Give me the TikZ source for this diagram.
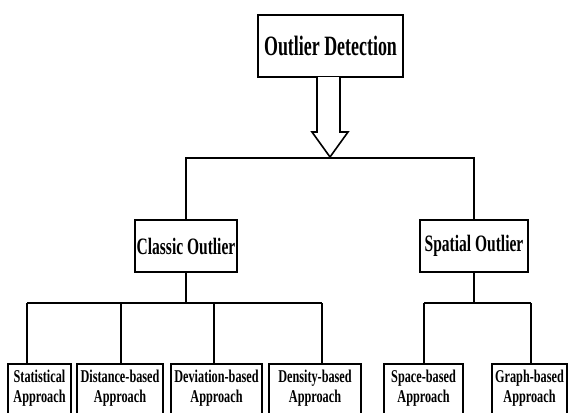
\documentclass[tikz,border=0pt]{standalone}
\usepackage{fontspec}
\newfontfamily\condtop[FakeStretch=0.64]{Liberation Serif}
\newfontfamily\condmid[FakeStretch=0.66]{Liberation Serif}
\newfontfamily\condleaf[FakeStretch=0.68]{Liberation Serif}
\begin{document}
\begin{tikzpicture}[x=1pt,y=-1pt,
  lw/.style={line width=1.8pt},
  box/.style={draw, lw, inner sep=0pt},
  topbox/.style={box, minimum width=145pt, minimum height=62pt, font=\condtop\bfseries\fontsize{28}{30}\selectfont},
  midbox/.style={box, minimum height=52pt, font=\condmid\bfseries\fontsize{23.5}{26}\selectfont},
  leaf/.style={anchor=north, inner xsep=0pt, inner ysep=5.5pt, align=center, font=\condleaf\bfseries\fontsize{18}{20.5}\selectfont},
  conn/.style={lw}]
\useasboundingbox (0,0) rectangle (569,412);
\clip (0,0) rectangle (569,412);
\fill[white] (0,0) rectangle (569,412);

% nodes
\node[topbox] (top) at (330.5,46) {Outlier Detection};
\node[midbox, minimum width=102pt] (classic) at (186,246) {Classic Outlier};
\node[midbox, minimum width=108pt] (spatial) at (474,246) {Spatial Outlier};

\node[leaf, minimum width=63pt] (s1) at (39.5,364) {Statistical\\Approach};
\node[leaf, minimum width=86pt] (s2) at (120,364) {Distance-based\\Approach};
\node[leaf, minimum width=91pt] (s3) at (216.5,364) {Deviation-based\\Approach};
\node[leaf, minimum width=92pt] (s4) at (315,364) {Density-based\\Approach};
\node[leaf, minimum width=79pt] (s5) at (423.5,364) {Space-based\\Approach};
\node[leaf, minimum width=75pt] (s6) at (529.5,364) {Graph-based\\Approach};

\foreach \n in {s1,s2,s3,s4,s5,s6}
  \draw[lw] (\n.north west) rectangle ([yshift=-40pt]\n.south east);

% block arrow from top node
\draw[line width=1.6pt, fill=white, line join=miter]
  (317,77) -- (317,132) -- (312,132) -- (330,157) -- (348,132) -- (340,132) -- (340,77);

% first level bus
\draw[conn] (classic.north) -- (classic.north |- 0,158) -- (spatial.north |- 0,158) -- (spatial.north);

% classic bus
\coordinate (cb1) at (27,303);
\coordinate (cb2) at (121,303);
\coordinate (cb3) at (214,303);
\coordinate (cb4) at (322,303);
\draw[conn] (classic.south) -- (classic.south |- cb1);
\draw[conn] (cb1) -- (cb4);
\draw[conn] (cb1) -- (cb1 |- s1.north);
\draw[conn] (cb2) -- (cb2 |- s2.north);
\draw[conn] (cb3) -- (cb3 |- s3.north);
\draw[conn] (cb4) -- (cb4 |- s4.north);

% spatial bus
\coordinate (sb1) at (424,303);
\coordinate (sb2) at (531,303);
\draw[conn] (spatial.south) -- (spatial.south |- sb1);
\draw[conn] (sb1) -- (sb2);
\draw[conn] (sb1) -- (sb1 |- s5.north);
\draw[conn] (sb2) -- (sb2 |- s6.north);
\end{tikzpicture}
\end{document}
